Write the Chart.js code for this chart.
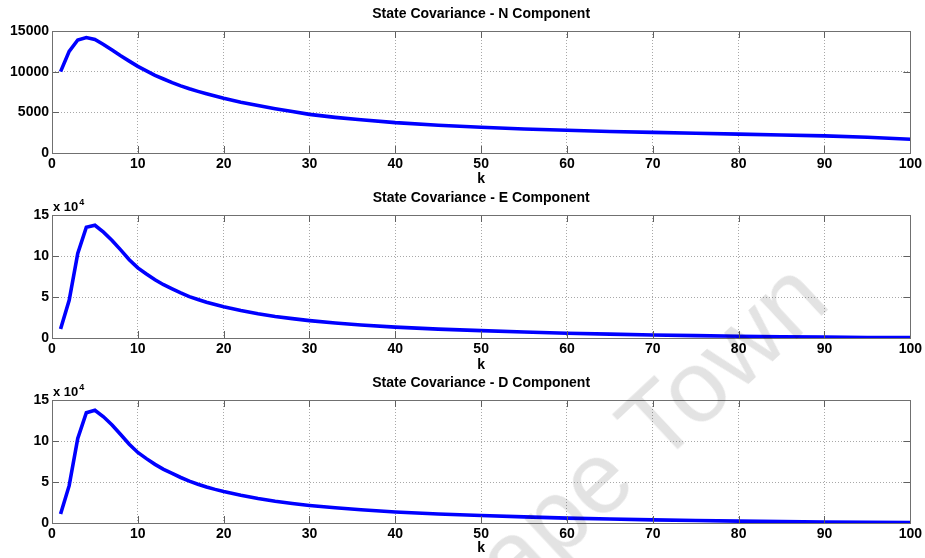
<!DOCTYPE html>
<html>
<head>
    <title>State Covariance</title>
    <script src="https://cdn.jsdelivr.net/npm/chart.js@4.4.1/dist/chart.umd.min.js"></script>
    <style>
        body {
            margin: 0;
            width: 925px;
            height: 558px;
            overflow: hidden;
            background-color: white;
            position: relative;
            font-family: "Liberation Sans", Arial, sans-serif;
        }
        .plot {
            position: absolute;
            left: 0;
        }
        .watermark {
            position: absolute;
            left: 461px;
            top: 566px;
            font-size: 102px;
            line-height: 1;
            white-space: nowrap;
            color: rgba(0, 0, 0, 0.11);
            transform: rotate(-43deg);
            transform-origin: 0 86px;
            pointer-events: none;
        }
    </style>
</head>
<body>
    <canvas id="chartN" class="plot" width="925" height="190" style="top:0px"></canvas>
    <canvas id="chartE" class="plot" width="925" height="190" style="top:185px"></canvas>
    <canvas id="chartD" class="plot" width="925" height="188" style="top:370px"></canvas>
    <div class="watermark">Cape Town</div>

    <script>
        // sample steps k and the values
        const kSteps = [1, 2, 3, 4, 5, 6, 7, 8, 9, 10, 11, 12, 13, 14, 15, 16, 17, 18, 19, 20,
                        22, 24, 26, 28, 30, 33, 36, 40, 45, 50, 55, 60, 65, 70, 75, 80, 85, 90, 95, 100];
        const nCov = [10000, 12500, 13900, 14200, 13950, 13350, 12650, 11950, 11300, 10650,
                      10100, 9550, 9100, 8650, 8250, 7900, 7580, 7280, 7000, 6720,
                      6250, 5830, 5450, 5100, 4750, 4380, 4080, 3730, 3420, 3170,
                      2960, 2790, 2650, 2530, 2420, 2320, 2220, 2100, 1930, 1700];
        const eCov = [11000, 46000, 103000, 135000, 137500, 129000, 119000, 107500, 95500, 85500,
                      78000, 71000, 65000, 60000, 55000, 50500, 47000, 43700, 40800, 38000,
                      33500, 29500, 26300, 23600, 21200, 18300, 15900, 13300, 10800, 9000,
                      7300, 5800, 4700, 3700, 2900, 2200, 1600, 1100, 700, 400];
        const dCov = [11000, 45500, 103000, 134500, 137500, 129500, 119500, 108000, 96000, 86000,
                      78500, 71500, 65500, 60500, 55500, 51000, 47300, 44000, 41000, 38300,
                      33800, 29800, 26500, 23800, 21400, 18500, 16100, 13500, 11000, 9200,
                      7500, 6000, 4800, 3800, 3000, 2300, 1700, 1200, 800, 400];

        const titles = ['State Covariance - N Component', 'State Covariance - E Component', 'State Covariance - D Component'];
        const xTickStep = 10;
        const yMaxN = 15000, yStepN = 5000;
        const yMaxED = 150000, yStepED = 50000;
        const expLabel = 'x 10';
        const expPower = '4';

        const FONT = '"Liberation Sans", Arial, sans-serif';

        // MATLAB style box, inward ticks and the exponent label
        const boxPlugin = {
            id: 'matlabBox',
            afterDraw(chart) {
                const ctx = chart.ctx;
                const a = chart.chartArea;
                const xs = chart.scales.x, ys = chart.scales.y;
                const len = 7;
                ctx.save();
                ctx.strokeStyle = '#606060';
                ctx.lineWidth = 1;
                ctx.beginPath();
                xs.ticks.forEach(t => {
                    const px = Math.round(xs.getPixelForValue(t.value)) + 0.5;
                    ctx.moveTo(px, a.bottom); ctx.lineTo(px, a.bottom - len);
                    ctx.moveTo(px, a.top); ctx.lineTo(px, a.top + len);
                });
                ys.ticks.forEach(t => {
                    const py = Math.round(ys.getPixelForValue(t.value)) + 0.5;
                    ctx.moveTo(a.left, py); ctx.lineTo(a.left + len, py);
                    ctx.moveTo(a.right, py); ctx.lineTo(a.right - len, py);
                });
                ctx.stroke();
                ctx.strokeStyle = '#707070';
                ctx.strokeRect(Math.round(a.left) + 0.5, Math.round(a.top) + 0.5,
                               Math.round(a.right - a.left), Math.round(a.bottom - a.top));
                if (chart.options.plugins.matlabBox.exponent) {
                    ctx.fillStyle = '#000';
                    ctx.textBaseline = 'alphabetic';
                    ctx.font = 'bold 13px ' + FONT;
                    ctx.fillText(expLabel, a.left + 1, a.top - 4);
                    const w = ctx.measureText(expLabel).width;
                    ctx.font = 'bold 9px ' + FONT;
                    ctx.fillText(expPower, a.left + 2 + w, a.top - 10);
                }
                ctx.restore();
            }
        };

        function makeChart(id, title, values, yMax, yStep, scaled, pad, axisH, kPad) {
            const ctx = document.getElementById(id).getContext('2d');
            return new Chart(ctx, {
                type: 'line',
                data: {
                    datasets: [{
                        data: kSteps.map((k, i) => ({ x: k, y: values[i] })),
                        borderColor: '#0000ff',
                        borderWidth: 3.6,
                        pointRadius: 0,
                        fill: false,
                        tension: 0
                    }]
                },
                options: {
                    responsive: false,
                    animation: false,
                    devicePixelRatio: 1,
                    layout: { padding: { left: 0, right: 13, top: 0, bottom: 0 } },
                    plugins: {
                        legend: { display: false },
                        tooltip: { enabled: false },
                        title: {
                            display: true,
                            fullSize: false,
                            text: title,
                            color: '#000',
                            font: { family: FONT, size: 14, weight: 'bold' },
                            padding: pad
                        },
                        matlabBox: { exponent: scaled }
                    },
                    scales: {
                        x: {
                            type: 'linear',
                            min: 0,
                            max: 100,
                            afterFit: s => { s.height = axisH; },
                            ticks: {
                                stepSize: xTickStep,
                                color: '#000',
                                padding: 3,
                                maxRotation: 0,
                                font: { family: FONT, size: 14, weight: 'bold' }
                            },
                            grid: {
                                color: '#a8a8a8',
                                lineWidth: 1,
                                drawTicks: false,
                                tickLength: 0
                            },
                            border: { display: false, dash: [1, 2] },
                            title: {
                                display: true,
                                text: 'k',
                                color: '#000',
                                font: { family: FONT, size: 14, weight: 'bold' },
                                padding: { top: 0, bottom: kPad }
                            }
                        },
                        y: {
                            min: 0,
                            max: yMax,
                            afterFit: s => { s.width = 52; },
                            ticks: {
                                stepSize: yStep,
                                color: '#000',
                                padding: 3,
                                font: { family: FONT, size: 14, weight: 'bold' },
                                callback: v => scaled ? String(v / 10000) : String(v)
                            },
                            grid: {
                                color: '#a8a8a8',
                                lineWidth: 1,
                                drawTicks: false,
                                tickLength: 0
                            },
                            border: { display: false, dash: [1, 2] }
                        }
                    }
                },
                plugins: [boxPlugin]
            });
        }

        makeChart('chartN', titles[0], nCov, yMaxN, yStepN, false, { top: 5.6, bottom: 8.6 }, 37, 2.6);
        makeChart('chartE', titles[1], eCov, yMaxED, yStepED, true, { top: 4.6, bottom: 8.6 }, 37, 1.6);
        makeChart('chartD', titles[2], dCov, yMaxED, yStepED, true, { top: 4.6, bottom: 8.6 }, 35, 1.6);
    </script>
</body>
</html>
